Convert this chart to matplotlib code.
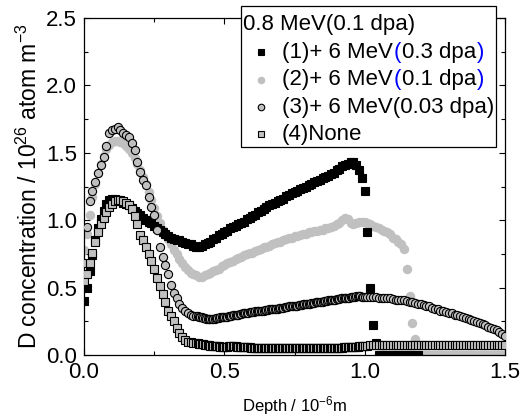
import numpy as np
import matplotlib
matplotlib.use("Agg")
import matplotlib.pyplot as plt
from matplotlib.lines import Line2D
from matplotlib.offsetbox import AnchoredOffsetbox, DrawingArea, HPacker, TextArea, VPacker
from matplotlib.ticker import MultipleLocator, FormatStrFormatter

plt.rcParams['font.family'] = ['Liberation Sans', 'DejaVu Sans']
plt.rcParams['mathtext.fontset'] = 'custom'
plt.rcParams['mathtext.rm'] = 'Liberation Sans'
plt.rcParams['mathtext.default'] = 'regular'

# ---- data (depth in 1e-6 m, D concentration in 1e26 atom/m3) ----
# (1) + 6 MeV (0.3 dpa), sampled every 0.01 from 0
conc1 = [0.40, 0.50, 0.62, 0.74, 0.85, 0.94, 1.01, 1.07, 1.12, 1.15,
         1.16, 1.16, 1.15, 1.14, 1.13, 1.12, 1.11, 1.09, 1.07, 1.05,
         1.04, 1.02, 1.00, 0.99, 0.98, 0.96, 0.94, 0.93, 0.91, 0.90,
         0.88, 0.87, 0.86, 0.85, 0.85, 0.84, 0.83, 0.82, 0.82, 0.81,
         0.80, 0.80, 0.81, 0.82, 0.83, 0.84, 0.86, 0.87, 0.89, 0.90,
         0.91, 0.92, 0.94, 0.95, 0.96, 0.97, 0.98, 0.99, 1.01, 1.02,
         1.03, 1.04, 1.06, 1.07, 1.08, 1.10, 1.11, 1.12, 1.13, 1.14,
         1.15, 1.16, 1.18, 1.19, 1.20, 1.21, 1.22, 1.23, 1.24, 1.25,
         1.26, 1.27, 1.28, 1.29, 1.30, 1.31, 1.32, 1.33, 1.34, 1.35,
         1.37, 1.38, 1.40, 1.41, 1.42, 1.43, 1.43, 1.41, 1.37, 1.31,
         1.22, 0.91, 0.50, 0.22, 0.09, 0.00, 0.00, 0.00, 0.00, 0.00,
         0.00, 0.00, 0.00, 0.00, 0.00, 0.00, 0.00, 0.00, 0.00, 0.00]

# (2) + 6 MeV (0.1 dpa), sampled every 0.01 from 0
conc2 = [0.78, 0.90, 1.04, 1.17, 1.27, 1.35, 1.42, 1.48, 1.53, 1.56,
         1.58, 1.59, 1.59, 1.58, 1.57, 1.55, 1.53, 1.50, 1.46, 1.42,
         1.37, 1.32, 1.27, 1.21, 1.15, 1.09, 1.03, 0.98, 0.93, 0.89,
         0.86, 0.82, 0.78, 0.75, 0.71, 0.68, 0.65, 0.63, 0.61, 0.60,
         0.59, 0.58, 0.58, 0.59, 0.60, 0.61, 0.62, 0.63, 0.64, 0.66,
         0.67, 0.68, 0.69, 0.70, 0.71, 0.72, 0.73, 0.74, 0.75, 0.76,
         0.76, 0.77, 0.78, 0.79, 0.80, 0.80, 0.81, 0.82, 0.83, 0.84,
         0.84, 0.85, 0.86, 0.87, 0.87, 0.88, 0.88, 0.89, 0.90, 0.90,
         0.91, 0.91, 0.92, 0.92, 0.93, 0.93, 0.94, 0.94, 0.95, 0.96,
         0.97, 0.98, 1.00, 1.02, 1.01, 0.98, 0.97, 0.98, 0.99, 0.99,
         0.99, 0.98, 0.97, 0.96, 0.95, 0.94, 0.93, 0.92, 0.91, 0.90,
         0.87, 0.86, 0.84, 0.82, 0.79, 0.64, 0.44, 0.24, 0.12, 0.00,
         0.00, 0.00, 0.00, 0.00, 0.00, 0.00, 0.00, 0.00, 0.00, 0.00,
         0.00, 0.00, 0.00, 0.00, 0.00, 0.00, 0.00, 0.00, 0.00, 0.00,
         0.00, 0.00, 0.00, 0.00, 0.00, 0.00, 0.00, 0.00, 0.00, 0.00,
         0.00]

# (3) + 6 MeV (0.03 dpa): 0-0.39 every 0.01, 0.40-0.995 every 0.005, 1.00-1.50 every 0.01
conc3_a = [0.68, 0.95, 1.14, 1.22, 1.28, 1.35, 1.41, 1.47, 1.55, 1.65,
           1.67, 1.68, 1.69, 1.67, 1.65, 1.63, 1.62, 1.57, 1.52, 1.43,
           1.36, 1.30, 1.26, 1.17, 1.10, 1.04, 0.93, 0.80, 0.73, 0.67,
           0.60, 0.52, 0.46, 0.42, 0.38, 0.35, 0.33, 0.31, 0.30, 0.29]
conc3_b = [0.29, 0.29, 0.285, 0.28, 0.28, 0.275, 0.275, 0.27, 0.27, 0.27,
           0.27, 0.27, 0.27, 0.27, 0.275, 0.275, 0.275, 0.28, 0.28, 0.28,
           0.28, 0.285, 0.285, 0.29, 0.29, 0.29, 0.295, 0.295, 0.30, 0.30,
           0.30, 0.305, 0.305, 0.31, 0.31, 0.31, 0.315, 0.315, 0.32, 0.32,
           0.32, 0.32, 0.325, 0.325, 0.325, 0.33, 0.33, 0.33, 0.33, 0.335,
           0.335, 0.335, 0.34, 0.34, 0.34, 0.34, 0.345, 0.345, 0.345, 0.35,
           0.35, 0.35, 0.35, 0.355, 0.355, 0.355, 0.36, 0.36, 0.36, 0.36,
           0.365, 0.365, 0.365, 0.37, 0.37, 0.37, 0.375, 0.375, 0.375, 0.38,
           0.38, 0.38, 0.385, 0.385, 0.385, 0.39, 0.39, 0.39, 0.395, 0.395,
           0.395, 0.40, 0.40, 0.40, 0.405, 0.405, 0.405, 0.41, 0.41, 0.41,
           0.415, 0.415, 0.415, 0.42, 0.42, 0.42, 0.42, 0.425, 0.425, 0.425,
           0.43, 0.43, 0.43, 0.43, 0.435, 0.435, 0.435, 0.435, 0.43, 0.43]
conc3_c = [0.43, 0.43, 0.43, 0.43, 0.43, 0.425, 0.425, 0.42, 0.42, 0.42,
           0.415, 0.41, 0.41, 0.405, 0.405, 0.40, 0.395, 0.39, 0.385, 0.38,
           0.375, 0.37, 0.365, 0.36, 0.35, 0.345, 0.34, 0.33, 0.325, 0.32,
           0.315, 0.31, 0.30, 0.295, 0.29, 0.28, 0.275, 0.27, 0.26, 0.25,
           0.245, 0.24, 0.23, 0.22, 0.21, 0.20, 0.195, 0.185, 0.17, 0.155,
           0.14]

# (4) None: same sampling as (3)
conc4_a = [0.55, 0.60, 0.68, 0.76, 0.84, 0.91, 0.97, 1.02, 1.06, 1.10,
           1.12, 1.14, 1.15, 1.15, 1.14, 1.13, 1.11, 1.08, 1.03, 0.97,
           0.89, 0.85, 0.80, 0.75, 0.70, 0.64, 0.57, 0.51, 0.45, 0.39,
           0.33, 0.29, 0.25, 0.20, 0.16, 0.13, 0.11, 0.10, 0.095, 0.09]
conc4_b = [0.09, 0.088, 0.085, 0.083, 0.08, 0.078, 0.076, 0.075, 0.073, 0.072,
           0.07, 0.069, 0.068, 0.067, 0.066, 0.065, 0.064, 0.063, 0.062, 0.062,
           0.061, 0.06, 0.062, 0.065, 0.068, 0.07, 0.07, 0.068, 0.065, 0.062,
           0.06, 0.059, 0.058, 0.058, 0.057, 0.057, 0.056, 0.056, 0.056, 0.055,
           0.055, 0.055, 0.055, 0.054, 0.054, 0.054, 0.054, 0.053, 0.053, 0.053,
           0.053, 0.053, 0.052, 0.052, 0.052, 0.052, 0.052, 0.052, 0.051, 0.051,
           0.051, 0.051, 0.051, 0.051, 0.05, 0.05, 0.05, 0.05, 0.05, 0.05,
           0.05, 0.05, 0.05, 0.05, 0.05, 0.05, 0.05, 0.05, 0.05, 0.05,
           0.05, 0.05, 0.05, 0.051, 0.051, 0.051, 0.051, 0.051, 0.051, 0.051,
           0.052, 0.052, 0.052, 0.052, 0.052, 0.053, 0.053, 0.053, 0.053, 0.054,
           0.054, 0.054, 0.055, 0.055, 0.055, 0.056, 0.056, 0.057, 0.057, 0.058,
           0.058, 0.059, 0.06, 0.061, 0.062, 0.063, 0.064, 0.065, 0.066, 0.068]
conc4_c = [0.070, 0.070, 0.071, 0.071, 0.071, 0.072, 0.072, 0.072, 0.072, 0.072,
           0.072, 0.072, 0.072, 0.072, 0.072, 0.072, 0.072, 0.072, 0.072, 0.072,
           0.072, 0.072, 0.072, 0.072, 0.072, 0.072, 0.072, 0.072, 0.072, 0.072,
           0.072, 0.072, 0.072, 0.072, 0.072, 0.072, 0.072, 0.072, 0.072, 0.072,
           0.072, 0.072, 0.072, 0.072, 0.072, 0.072, 0.072, 0.072, 0.072, 0.072,
           0.072]

legend_title = "0.8 MeV(0.1 dpa)"
# label pieces and their colours (blue brackets as in the original)
legend_labels = [
    [("(1)+ 6 MeV", "black"), ("(", "blue"), ("0.3 dpa", "black"), (")", "blue")],
    [("(2)+ 6 MeV", "black"), ("(", "blue"), ("0.1 dpa", "black"), (")", "blue")],
    [("(3)+ 6 MeV(0.03 dpa)", "black")],
    [("(4)None", "black")],
]


def depth_grid(n, start, step):
    return start + np.arange(n) * step


d1 = depth_grid(len(conc1), 0.0, 0.01)
d2 = depth_grid(len(conc2), 0.0, 0.01)
d3 = np.concatenate([depth_grid(len(conc3_a), 0.0, 0.01),
                     depth_grid(len(conc3_b), 0.40, 0.005),
                     depth_grid(len(conc3_c), 1.00, 0.01)])
c3 = np.concatenate([conc3_a, conc3_b, conc3_c])
d4 = np.concatenate([depth_grid(len(conc4_a), 0.0, 0.01),
                     depth_grid(len(conc4_b), 0.40, 0.005),
                     depth_grid(len(conc4_c), 1.00, 0.01)])
c4 = np.concatenate([conc4_a, conc4_b, conc4_c])

grey = '#c0c0c0'
styles = [
    dict(marker='s', ms=5.4, mfc='black', mec='black', mew=0.8),
    dict(marker='o', ms=6.8, mfc=grey, mec='none'),
    dict(marker='o', ms=5.9, mfc=grey, mec='black', mew=0.8),
    dict(marker='s', ms=5.1, mfc=grey, mec='black', mew=0.8),
]

fig, ax = plt.subplots(figsize=(5.27, 4.18), dpi=100)
fig.subplots_adjust(left=0.1594, right=0.9583, bottom=0.1507, top=0.9569)

ax.plot(d2, conc2, linestyle='none', zorder=2, **styles[1])
ax.plot(d1, conc1, linestyle='none', zorder=3, **styles[0])
ax.plot(d3, c3, linestyle='none', zorder=4, **styles[2])
ax.plot(d4, c4, linestyle='none', zorder=5, **styles[3])

ax.set_xlim(0, 1.5)
ax.set_ylim(0, 2.5)
ax.xaxis.set_major_locator(MultipleLocator(0.5))
ax.xaxis.set_minor_locator(MultipleLocator(0.25))
ax.yaxis.set_major_locator(MultipleLocator(0.5))
ax.yaxis.set_minor_locator(MultipleLocator(0.25))
ax.xaxis.set_major_formatter(FormatStrFormatter('%.1f'))
ax.yaxis.set_major_formatter(FormatStrFormatter('%.1f'))
ax.tick_params(which='both', direction='in', top=True, right=True, width=0.8)
ax.tick_params(which='major', length=4.5, labelsize=16, pad=5)
ax.tick_params(which='minor', length=3)
for s in ax.spines.values():
    s.set_linewidth(0.9)

ax.set_ylabel(r'D concentration / 10$^{26}$ atom m$^{-3}$', fontsize=16.5, labelpad=3)
ax.set_xlabel(r'Depth / 10$^{-6}$m', fontsize=12, labelpad=8)

# legend with coloured brackets, built from offset boxes
fs = 16
rows = [DrawingArea(1, 0, 0, 0), TextArea(legend_title, textprops=dict(fontsize=fs))]
for style, parts in zip(styles, legend_labels):
    da = DrawingArea(26, 12, 0, 0)
    st = dict(style)
    st['ms'] = st['ms'] * 0.8
    da.add_artist(Line2D([13], [6], linestyle='none', **st))
    texts = [TextArea(t, textprops=dict(fontsize=fs, color=c)) for t, c in parts]
    label = HPacker(children=texts, align='baseline', pad=0, sep=0.6)
    rows.append(HPacker(children=[da, label], align='center', pad=0, sep=2))
box = VPacker(children=rows, align='left', pad=0, sep=4.6)
leg = AnchoredOffsetbox(loc='upper left', child=box, pad=0.15, borderpad=0,
                        frameon=True, bbox_to_anchor=(0.373, 1.036),
                        bbox_transform=ax.transAxes)
leg.patch.set_edgecolor('black')
leg.patch.set_linewidth(0.9)
leg.zorder = 10
fig.add_artist(leg)

fig.savefig('out.png', dpi=100)
